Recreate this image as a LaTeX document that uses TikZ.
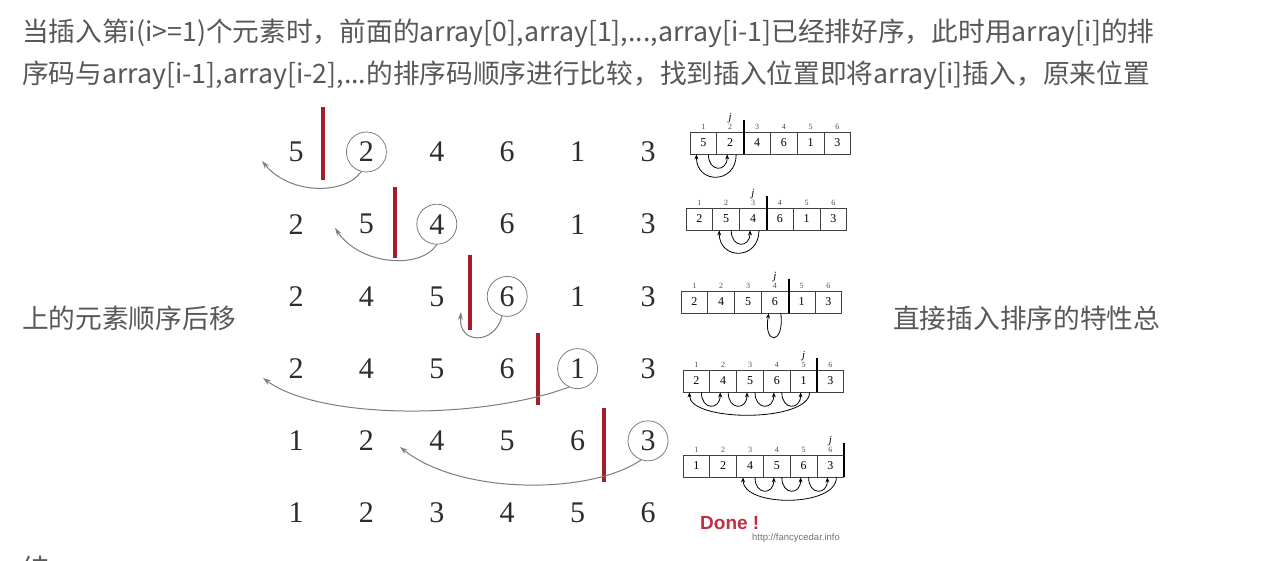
\documentclass[tikz,border=0pt]{standalone}
\usepackage{fontspec}
\setmainfont{Liberation Serif}
\newfontfamily\cjk{Noto Sans CJK SC}
\newfontfamily\webfont{Liberation Sans}
\usetikzlibrary{arrows.meta,positioning,calc}
\definecolor{txt}{RGB}{88,88,88}
\definecolor{digit}{RGB}{45,45,45}
\definecolor{barc}{RGB}{165,28,45}
\definecolor{swc}{RGB}{125,125,125}
\definecolor{donec}{RGB}{195,45,65}
\tikzset{para/.style={anchor=west,inner sep=0pt,text=txt,font=\cjk\fontsize{26.7}{40}\selectfont},
 num/.style={inner sep=0pt,text=digit,font=\fontsize{30}{30}\selectfont},
 ring/.style={draw=swc,circle,minimum size=40pt,line width=.8pt},
 sortbar/.style={draw=barc,line width=3.2pt},
 sweep/.style={draw=swc,line width=1pt,-{Stealth[length=8pt,width=5pt]}},
 cell/.style={draw=black!75,line width=.8pt,minimum width=26.8pt,minimum height=22pt,inner sep=0pt,font=\fontsize{12}{12}\selectfont},
 idx/.style={font=\fontsize{8}{8}\selectfont,inner sep=0pt,text=black!70},
 jmark/.style={font=\itshape\fontsize{11}{11}\selectfont,inner sep=0pt},
 wall/.style={line width=2pt},
 hop/.style={line width=.8pt,-{Stealth[length=5pt,width=4pt]}}}
\begin{document}
\begin{tikzpicture}[x=1pt,y=-1pt]
\clip (0,0) rectangle (1285,561);
\fill[white] (0,0) rectangle (1285,561);
% paragraph text round the figure
\node[para] (l1) at (22,33) {当插入第i(i>=1)个元素时，前面的array[0],array[1],...,array[i-1]已经排好序，此时用array[i]的排};
\node[para] (l2) at (22,75) {序码与array[i-1],array[i-2],...的排序码顺序进行比较，找到插入位置即将array[i]插入，原来位置};
\node[para] (l3) at (22,318) {上的元素顺序后移};
\node[para] (l4) at (893,318) {直接插入排序的特性总};
\node[para] (l5) at (22,568) {结};
% big rows of numbers
\foreach \vals [count=\r] in {{5,2,4,6,1,3},{2,5,4,6,1,3},{2,4,5,6,1,3},{2,4,5,6,1,3},{1,2,4,5,6,3},{1,2,3,4,5,6}}
  \foreach \v [count=\c] in \vals
    \node[num] (n-\r-\c) at ({296+70.4*(\c-1)},{152+72.2*(\r-1)}) {\v};
\foreach \r/\c in {1/2,2/3,3/4,4/5,5/6}
  \node[ring] (k-\r) at (n-\r-\c) {};
\draw[sortbar] (323,107) -- (323,180);
\draw[sortbar] (395,187) -- (395,258);
\draw[sortbar] (470,255) -- (470,330);
\draw[sortbar] (538,333) -- (538,405);
\draw[sortbar] (604,408) -- (604,482);
\coordinate (t-1) at (262,161);
\coordinate (t-2) at (335,228);
\coordinate (t-3) at (461,312);
\coordinate (t-4) at (263,378);
\coordinate (t-5) at (400,447);
\draw[sweep] (k-1.255) .. controls (345,195) and (290,195) .. (t-1);
\draw[sweep] (k-2.270) .. controls (420,270) and (360,265) .. (t-2);
\draw[sweep] (k-3.255) .. controls (495,345) and (458,345) .. (t-3);
\draw[sweep] (k-4.245) .. controls (480,420) and (320,420) .. (t-4);
\draw[sweep] (k-5.250) .. controls (590,495) and (460,495) .. (t-5);
% small arrays on the right
\foreach \vals/\x/\y/\w [count=\r] in {{5,2,4,6,1,3}/690/143/2,{2,5,4,6,1,3}/686/219/3,{2,4,5,6,1,3}/681/302/4,{2,4,5,6,1,3}/683/381/5,{1,2,4,5,6,3}/683/466/6}{
  \foreach \v [count=\c] in \vals{
    \node[cell] (m-\r-\c) at ({\x+26.8*(\c-0.5)},\y) {\v};
    \node[idx,above=1.5pt of m-\r-\c] (i-\r-\c) {\c};
  }
  \node[jmark,above=1pt of i-\r-\w] (j-\r) {j};
  \draw[wall] ($(m-\r-\w.north east)+(0,-12)$) -- (m-\r-\w.south east);
}
\foreach \r/\w/\t in {1/2/1,2/3/2,4/5/1,5/6/3}
  \draw[hop] ($(m-\r-\w.south)+(6,0)$) .. controls +(0,30) and +(0,30) .. ($(m-\r-\t.south)+(-7,0)$);
\foreach \r/\k [evaluate=\k as \kk using int(\k+1)] in {1/1,2/2,4/1,4/2,4/3,4/4,5/3,5/4,5/5}
  \draw[hop] ($(m-\r-\k.south)+(5,0)$) .. controls +(0,18) and +(0,18) .. ($(m-\r-\kk.south)+(-3,0)$);
\draw[hop] ($(m-3-4.south)+(6,0)$) .. controls +(4,32) and +(-6,32) .. ($(m-3-4.south)+(-6,0)$);
\node[anchor=west,inner sep=0pt,text=donec,font=\webfont\bfseries\fontsize{19}{19}\selectfont] (done) at (700,523) {Done !};
\node[anchor=west,inner sep=0pt,text=black!55,font=\webfont\fontsize{9.5}{10}\selectfont] (url) at (752,538) {http://fancycedar.info};
\end{tikzpicture}
\end{document}
